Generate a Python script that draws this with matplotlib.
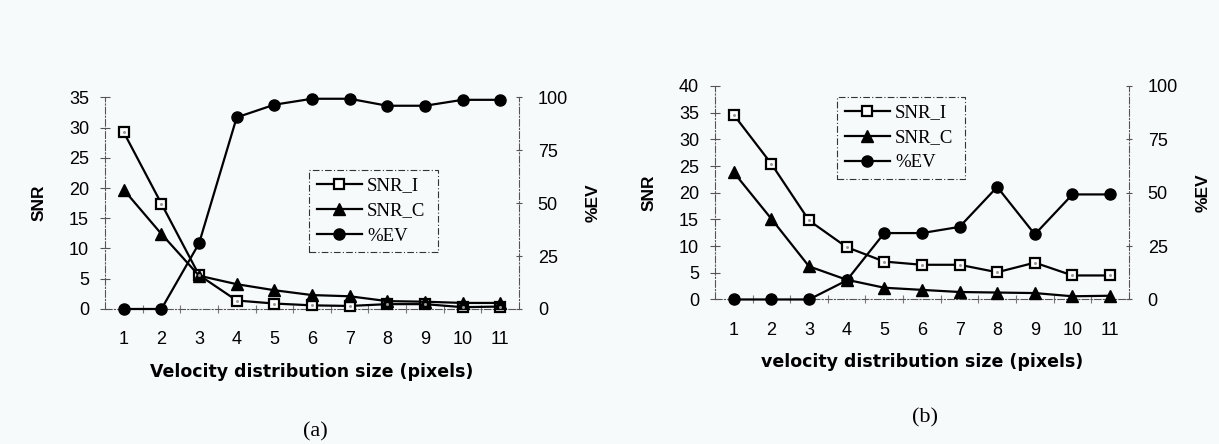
import matplotlib.pyplot as plt
from matplotlib.lines import Line2D

# --- data -------------------------------------------------------------
sizes = list(range(1, 12))

snr_i_a = [29.2, 17.4, 5.6, 1.4, 0.9, 0.6, 0.5, 0.8, 0.8, 0.3, 0.4]
snr_c_a = [19.7, 12.4, 5.5, 4.1, 3.1, 2.3, 2.1, 1.3, 1.2, 1.0, 1.0]
ev_a = [0, 0, 31, 90.5, 96.5, 99.3, 99.3, 96, 96, 98.8, 98.8]

snr_i_b = [34.6, 25.4, 14.8, 9.8, 7.1, 6.5, 6.5, 5.1, 6.9, 4.5, 4.5]
snr_c_b = [23.8, 15.1, 6.2, 3.7, 2.2, 1.8, 1.4, 1.3, 1.2, 0.6, 0.7]
ev_b = [0, 0, 0, 8.9, 31.1, 31.1, 34, 52.7, 30.5, 49.2, 49.2]

snr_ticks_a = [0, 5, 10, 15, 20, 25, 30, 35]
snr_ticks_b = [0, 5, 10, 15, 20, 25, 30, 35, 40]
ev_ticks = [0, 25, 50, 75, 100]

BG = '#f7fafb'
TICKFONT = ['Liberation Sans', 'DejaVu Sans']
LEGFONT = ['Liberation Serif', 'DejaVu Serif']
DASHDOT = (0, (6, 2, 1, 2))


def panel(rect, snr_i, snr_c, ev, snr_max, snr_ticks, xlabel, xlab_y, leg_box):
    ax = fig.add_axes(rect)
    ax.set_facecolor('none')
    ax2 = ax.twinx()
    ax2.set_facecolor('none')

    ax.plot(sizes, snr_i, color='black', lw=1.6, marker='s', ms=7,
            mfc='white', mec='black', mew=1.6, zorder=3, clip_on=False)
    ax.plot(sizes, snr_i, ls='none', marker='o', ms=2.2, mfc='#999999',
            mec='none', zorder=4, clip_on=False)
    ax.plot(sizes, snr_c, color='black', lw=1.6, marker='^', ms=8.5,
            mfc='black', mec='black', zorder=3, clip_on=False)
    ax2.plot(sizes, ev, color='black', lw=1.6, marker='o', ms=8,
             mfc='black', mec='black', zorder=3, clip_on=False)

    ax.set_xlim(0.5, 11.5)
    ax.set_ylim(0, snr_max)
    ax2.set_ylim(0, 100)
    ax.set_yticks(snr_ticks)
    ax2.set_yticks(ev_ticks)
    ax.set_xticks(sizes)
    ax.set_xticks([s + 0.5 for s in sizes[:-1]], minor=True)

    for a in (ax, ax2):
        for sp in a.spines.values():
            sp.set_linestyle(DASHDOT)
            sp.set_linewidth(0.8)
            sp.set_color('#555555')
        a.spines['top'].set_visible(False)
    ax.spines['right'].set_visible(False)
    ax2.spines['left'].set_visible(False)
    ax2.spines['bottom'].set_visible(False)

    ax.tick_params(axis='y', direction='inout', length=7, width=0.8,
                   color='#555555', pad=8, labelsize=13)
    ax2.tick_params(axis='y', direction='inout', length=5, width=0.8,
                    color='#555555', pad=11, labelsize=13)
    ax.tick_params(axis='x', which='major', length=0, pad=16, labelsize=13)
    ax.tick_params(axis='x', which='minor', direction='inout', length=6,
                   width=0.8, color='#777777')
    for lab in ax.get_xticklabels() + ax.get_yticklabels() + ax2.get_yticklabels():
        lab.set_family(TICKFONT)

    ax.set_ylabel('SNR', fontsize=12.5, fontweight='bold',
                  family=['Liberation Sans Narrow', 'Liberation Sans'])
    ax.yaxis.set_label_coords(-0.14, 0.5)
    ax2.set_ylabel('%EV', fontsize=12.5, fontweight='bold',
                   family=['Liberation Sans Narrow', 'Liberation Sans'])
    ax2.yaxis.set_label_coords(1.16, 0.5)
    ax.set_xlabel(xlabel, fontsize=12.5, fontweight='bold')
    ax.xaxis.set_label_coords(0.5, xlab_y)
    ax.xaxis.label.set_va('center')

    handles = [
        Line2D([], [], color='black', lw=1.6, marker='s', ms=7, mfc='white',
               mec='black', mew=1.6),
        Line2D([], [], color='black', lw=1.6, marker='^', ms=8.5, mfc='black'),
        Line2D([], [], color='black', lw=1.6, marker='o', ms=8, mfc='black'),
    ]
    leg = ax2.legend(handles, ['SNR_I', 'SNR_C', '%EV'], loc='upper left',
                     bbox_to_anchor=leg_box, mode='expand', borderaxespad=0,
                     fancybox=False, framealpha=1, facecolor=BG,
                     edgecolor='#333333', handlelength=2.4, handletextpad=0.3,
                     labelspacing=0.42, borderpad=0.4,
                     prop={'family': LEGFONT, 'size': 13.5})
    leg.get_frame().set_linestyle(DASHDOT)
    leg.get_frame().set_linewidth(0.8)
    return ax


fig = plt.figure(figsize=(12.19, 4.44), dpi=100, facecolor=BG)

panel([0.0861, 0.3041, 0.3397, 0.4768], snr_i_a, snr_c_a, ev_a, 35,
      snr_ticks_a, 'Velocity distribution size (pixels)', -0.298,
      (0.493, 0.265, 0.311, 0.392))
panel([0.5865, 0.3255, 0.3396, 0.4809], snr_i_b, snr_c_b, ev_b, 40,
      snr_ticks_b, 'velocity distribution size (pixels)', -0.293,
      (0.295, 0.569, 0.309, 0.381))

fig.text(315 / 1219, 1 - 432 / 444, '(a)', ha='center', va='center',
         fontsize=16, family=LEGFONT)
fig.text(925 / 1219, 1 - 418 / 444, '(b)', ha='center', va='center',
         fontsize=16, family=LEGFONT)

fig.savefig('out.png', dpi=100, facecolor=BG)
